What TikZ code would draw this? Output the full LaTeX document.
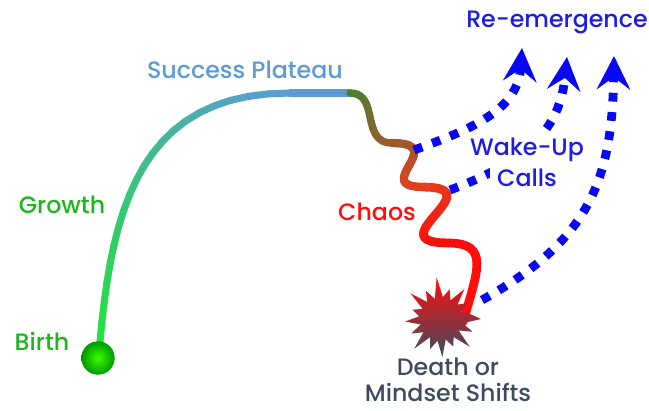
\documentclass[tikz,border=0pt]{standalone}
\usepackage{fontspec}
\setmainfont{Poppins}[UprightFont=* Medium]
\usetikzlibrary{arrows.meta}

\definecolor{growgreen}{RGB}{34,225,64}
\definecolor{plateaublue}{RGB}{91,155,213}
\definecolor{wigglegreen}{RGB}{72,128,52}
\definecolor{wigglebrown}{RGB}{152,92,44}
\definecolor{wiggleorange}{RGB}{228,62,30}
\definecolor{chaosred}{RGB}{255,12,12}
\definecolor{callblue}{RGB}{8,8,245}
\definecolor{textblue}{RGB}{28,28,228}
\definecolor{labelgreen}{RGB}{30,182,30}
\definecolor{slate}{RGB}{62,76,98}

\tikzset{
trail/.style = {line cap=round},
call/.style = {callblue, line width=5pt, dash pattern=on 5pt off 6pt,
  -{Stealth[length=19pt,width=19pt,inset=7pt]}},
tag/.style = {font=\fontsize{13.5}{14.6}\selectfont, inner sep=1pt, align=center},
birthdot/.style = {circle, minimum size=19pt, inner sep=0pt,
  inner color=green!70!lime, outer color=green!60!black},
burst/.style = {shading angle=-45, top color=chaosred, bottom color=slate}
}

% one cubic piece of the trail, shaded from colour #5 to colour #6
\newcommand{\trailpiece}[7]{%
  \foreach \k in {0,...,20}
    \path (#1) .. controls (#2) and (#3) .. (#4) coordinate[pos=\k/20] (tp\k);
  \foreach \k [evaluate=\k as \m using int(\k+1),
               evaluate=\k as \pc using int(5*\k+2)] in {0,...,19}
    \draw[trail, line width=#7, color=#6!\pc!#5] (tp\k) -- (tp\m);
}

\begin{document}
\begin{tikzpicture}[x=0.02cm, y=-0.02cm]
\useasboundingbox (0,0) rectangle (649,410);

\coordinate (birth) at (98,358);
\coordinate (start) at (100,342);
\coordinate (top) at (290,93);
\coordinate (edge) at (350,93);
\coordinate (s1) at (392,143);
\coordinate (s2) at (423,187);
\coordinate (s3) at (448,243);
\coordinate (end) at (463,322);
\coordinate (burst) at (441,319);
\coordinate (turn1) at (414,150);
\coordinate (turn2) at (450,190);
\coordinate (flank) at (482,300);
\coordinate (tip1) at (522,48);
\coordinate (tip2) at (567,57);
\coordinate (tip3) at (614,56);

% growth and plateau
\trailpiece{start}{112,205}{142,93}{top}{growgreen}{plateaublue}{4pt}
\draw[trail, line width=4pt, plateaublue] (top) -- (edge);

% chaos
\trailpiece{edge}{380,93}{360,143}{s1}{wigglegreen}{wigglebrown}{4.2pt}
\trailpiece{s1}{450,143}{370,187}{s2}{wigglebrown}{wiggleorange}{4.7pt}
\trailpiece{s2}{495,187}{375,243}{s3}{wiggleorange}{chaosred}{5pt}
\draw[trail, line width=5pt, chaosred] (s3) .. controls (490,243) and (478,270) .. (end);

\shade[burst] (burst) +(0:40)
  \foreach \a/\r in {11/22,22/34,33/21,44/40,55/22,66/30,77/21,88/38,99/22,
    110/32,121/21,132/40,143/22,154/33,165/21,176/36,187/22,198/30,209/21,
    220/40,231/22,242/32,253/21,264/42,275/22,286/31,297/21,308/38,319/22,
    330/32,341/21,351/30} {-- +(\a:\r)} -- cycle;

\node[birthdot] (dot) at (birth) {};

% wake-up calls
\draw[call] (turn1) .. controls (478,127) and (518,108) .. (tip1);
\draw[call] (turn2) .. controls (530,160) and (560,128) .. (tip2);
\draw[call] (flank) .. controls (590,240) and (612,180) .. (tip3);

\node[tag, textblue] (reemerge) at (557,22) {Re-emergence};
\node[tag, plateaublue] (plateau) at (245,70) {Success Plateau};
\node[tag, labelgreen] (growth) at (62,205) {Growth};
\node[tag, labelgreen] (birthlabel) at (42,341) {Birth};
\node[tag, chaosred] (chaos) at (377,212) {Chaos};
\node[tag, textblue, fill=white, inner ysep=3pt] (wakeup) at (527,150) {Wake-Up};
\node[tag, textblue, fill=white, inner sep=4pt] (calls) at (527,178) {Calls};
\node[tag, slate] (death) at (448,380) {Death or\\Mindset Shifts};
\end{tikzpicture}
\end{document}
